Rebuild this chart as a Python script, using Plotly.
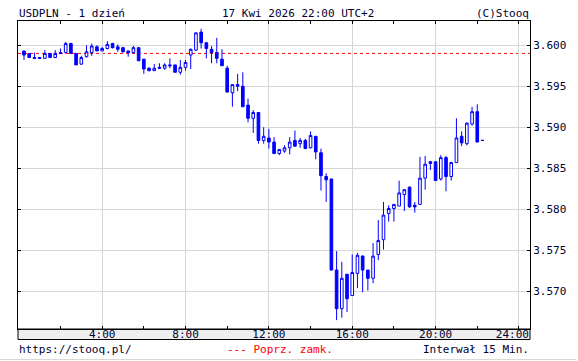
import numpy as np
import plotly.graph_objects as go

# 15-minute candles, 00:15 .. 22:15 (hours)
hours = np.arange(1, 90) * 0.25

opens = [3.5993, 3.5990, 3.5985, 3.5985, 3.5984, 3.5990, 3.5985, 3.5991, 3.5991, 3.6002,
         3.5990, 3.5977, 3.5986, 3.5991, 3.5998, 3.5993, 3.5996, 3.6002, 3.5998, 3.5997,
         3.5993, 3.5991, 3.5997, 3.5983, 3.5972, 3.5969, 3.5973, 3.5972, 3.5976, 3.5976,
         3.5967, 3.5973, 3.5988, 3.5994, 3.6016, 3.6003, 3.5995, 3.5991, 3.5983, 3.5972,
         3.5942, 3.5952, 3.5950, 3.5927, 3.5911, 3.5918, 3.5884, 3.5887, 3.5882, 3.5868,
         3.5871, 3.5875, 3.5884, 3.5880, 3.5884, 3.5875, 3.5889, 3.5869, 3.5840, 3.5837,
         3.5726, 3.5679, 3.5721, 3.5695, 3.5722, 3.5743, 3.5726, 3.5716, 3.5745, 3.5763,
         3.5795, 3.5801, 3.5804, 3.5818, 3.5827, 3.5805, 3.5806, 3.5838, 3.5858, 3.5858,
         3.5837, 3.5863, 3.5840, 3.5857, 3.5889, 3.5880, 3.5904, 3.5919, 3.5884]
highs = [3.5993, 3.5990, 3.5991, 3.5985, 3.5994, 3.5990, 3.5994, 3.5996, 3.6004, 3.6003,
         3.5990, 3.5987, 3.6000, 3.6002, 3.6000, 3.5998, 3.6005, 3.6003, 3.6001, 3.5998,
         3.5993, 3.5999, 3.5997, 3.5983, 3.5973, 3.5977, 3.5978, 3.5978, 3.5984, 3.5976,
         3.5982, 3.5982, 3.5996, 3.6016, 3.6020, 3.6004, 3.5999, 3.6009, 3.5995, 3.5975,
         3.5952, 3.5965, 3.5967, 3.5935, 3.5921, 3.5918, 3.5900, 3.5898, 3.5888, 3.5873,
         3.5878, 3.5888, 3.5896, 3.5887, 3.5886, 3.5895, 3.5889, 3.5874, 3.5844, 3.5837,
         3.5749, 3.5736, 3.5721, 3.5745, 3.5747, 3.5744, 3.5726, 3.5759, 3.5787, 3.5809,
         3.5805, 3.5806, 3.5835, 3.5824, 3.5828, 3.5809, 3.5864, 3.5865, 3.5859, 3.5858,
         3.5866, 3.5865, 3.5858, 3.5911, 3.5895, 3.5906, 3.5925, 3.5928, 3.5884]
lows = [3.5982, 3.5985, 3.5983, 3.5983, 3.5984, 3.5985, 3.5985, 3.5990, 3.5990, 3.5990,
        3.5976, 3.5976, 3.5985, 3.5987, 3.5993, 3.5993, 3.5995, 3.5996, 3.5992, 3.5991,
        3.5986, 3.5990, 3.5981, 3.5965, 3.5968, 3.5969, 3.5971, 3.5970, 3.5972, 3.5967,
        3.5964, 3.5969, 3.5971, 3.5993, 3.5996, 3.5984, 3.5978, 3.5978, 3.5975, 3.5942,
        3.5925, 3.5944, 3.5925, 3.5906, 3.5893, 3.5880, 3.5880, 3.5874, 3.5868, 3.5866,
        3.5869, 3.5867, 3.5877, 3.5875, 3.5874, 3.5874, 3.5861, 3.5823, 3.5809, 3.5726,
        3.5665, 3.5668, 3.5675, 3.5695, 3.5704, 3.5699, 3.5701, 3.5710, 3.5738, 3.5751,
        3.5785, 3.5785, 3.5804, 3.5798, 3.5802, 3.5796, 3.5806, 3.5824, 3.5848, 3.5835,
        3.5835, 3.5822, 3.5835, 3.5857, 3.5877, 3.5878, 3.5902, 3.5882, 3.5884]
closes = [3.5988, 3.5985, 3.5984, 3.5984, 3.5990, 3.5985, 3.5990, 3.5990, 3.6002, 3.5990,
          3.5976, 3.5985, 3.5992, 3.5999, 3.5993, 3.5996, 3.6001, 3.5997, 3.5995, 3.5992,
          3.5991, 3.5997, 3.5981, 3.5971, 3.5969, 3.5972, 3.5972, 3.5976, 3.5975, 3.5967,
          3.5973, 3.5979, 3.5995, 3.6015, 3.6003, 3.5996, 3.5991, 3.5984, 3.5975, 3.5943,
          3.5952, 3.5950, 3.5925, 3.5911, 3.5918, 3.5884, 3.5889, 3.5882, 3.5868, 3.5873,
          3.5875, 3.5882, 3.5877, 3.5884, 3.5874, 3.5890, 3.5870, 3.5841, 3.5836, 3.5726,
          3.5679, 3.5716, 3.5691, 3.5723, 3.5744, 3.5726, 3.5716, 3.5743, 3.5762, 3.5793,
          3.5801, 3.5806, 3.5820, 3.5824, 3.5803, 3.5803, 3.5838, 3.5855, 3.5856, 3.5835,
          3.5863, 3.5840, 3.5857, 3.5887, 3.5881, 3.5905, 3.5919, 3.5882, 3.5884]

prev_close = 3.5990

x_tick_vals = [4, 8, 12, 16, 20, 24]
x_tick_text = ["4:00", "8:00", "12:00", "16:00", "20:00", "24:00\u00a0\u00a0"]
y_tick_vals = [3.570, 3.575, 3.580, 3.585, 3.590, 3.595, 3.600]

FONT = "DejaVu Sans Mono"
TXT = "#000033"
BLUE = "#0000ff"
GRID = "#d6d6d6"

fig = go.Figure()
fig.add_trace(go.Candlestick(
    x=hours, open=opens, high=highs, low=lows, close=closes,
    increasing=dict(line=dict(color=BLUE, width=1), fillcolor="#ffffff"),
    decreasing=dict(line=dict(color=BLUE, width=1), fillcolor=BLUE),
    whiskerwidth=0, hoverinfo="skip", showlegend=False,
))

fig.add_hline(y=prev_close, line=dict(color="#ff0000", width=1, dash="3px,3px"), layer="below")

H_PLOT = 361 - 21 - 32
fig.update_layout(
    width=578, height=361,
    margin=dict(l=18, r=46, t=21, b=32),
    paper_bgcolor="#ffffff", plot_bgcolor="#ffffff",
    boxgap=0.28,
    font=dict(family=FONT, size=11, color=TXT),
    xaxis=dict(
        range=[-0.038, 24.53], tickmode="array", tickvals=x_tick_vals, ticktext=x_tick_text,
        showgrid=True, gridcolor=GRID, gridwidth=1, zeroline=False,
        ticks="inside", ticklen=3, tickcolor="#000000",
        minor=dict(tickmode="linear", tick0=0, dtick=2, ticks="inside", ticklen=3,
                   tickcolor="#000000", showgrid=False),
        showline=True, linecolor="#000000", linewidth=1, mirror="ticks",
        rangeslider=dict(visible=False), fixedrange=True,
        ticklabelstandoff=-5,
        tickfont=dict(family=FONT, size=11, color=TXT),
    ),
    yaxis=dict(
        range=[3.56542, 3.60295], side="right", tickmode="array", tickvals=y_tick_vals,
        tickformat=".3f", showgrid=True, gridcolor=GRID, gridwidth=1, zeroline=False,
        ticks="inside", ticklen=3, tickcolor="#000000",
        showline=True, linecolor="#000000", linewidth=1, mirror="ticks", fixedrange=True,
        tickfont=dict(family=FONT, size=11, color=TXT),
    ),
)

# grey strip under the plot for the time labels
fig.add_shape(type="rect", xref="paper", yref="paper", x0=0, x1=1,
              y0=-10.5 / H_PLOT, y1=0, fillcolor="#eeeeee",
              line=dict(color="#000000", width=1), layer="below")
# faint bottom rule
fig.add_shape(type="line", xref="paper", yref="paper", x0=-18 / 514, x1=560 / 514,
              y0=-30.5 / H_PLOT, y1=-30.5 / H_PLOT, line=dict(color="#d8d8d8", width=1))

ytop = 1 + 7.5 / H_PLOT
ybot = -20.5 / H_PLOT
ann = [
    dict(text="USDPLN - 1 dzień", x=0, xanchor="left", y=ytop, color=TXT),
    dict(text="17 Kwi 2026 22:00 UTC+2", x=(299 - 18) / 514, xanchor="center", y=ytop, color=TXT),
    dict(text="(C)Stooq", x=1, xanchor="right", y=ytop, color=TXT),
    dict(text="https://stooq.pl/", x=0, xanchor="left", y=ybot, color=TXT),
    dict(text="--- Poprz. zamk.", x=(281.5 - 18) / 514, xanchor="center", y=ybot, color="#ff0000"),
    dict(text="Interwał 15 Min.", x=1, xanchor="right", y=ybot, color=TXT),
]
for a in ann:
    fig.add_annotation(text=a["text"], xref="paper", yref="paper", x=a["x"], y=a["y"],
                       xanchor=a["xanchor"], yanchor="middle", showarrow=False,
                       font=dict(family=FONT, size=11, color=a["color"]), borderpad=0)

fig.write_html("out.html", config={"displayModeBar": False})
